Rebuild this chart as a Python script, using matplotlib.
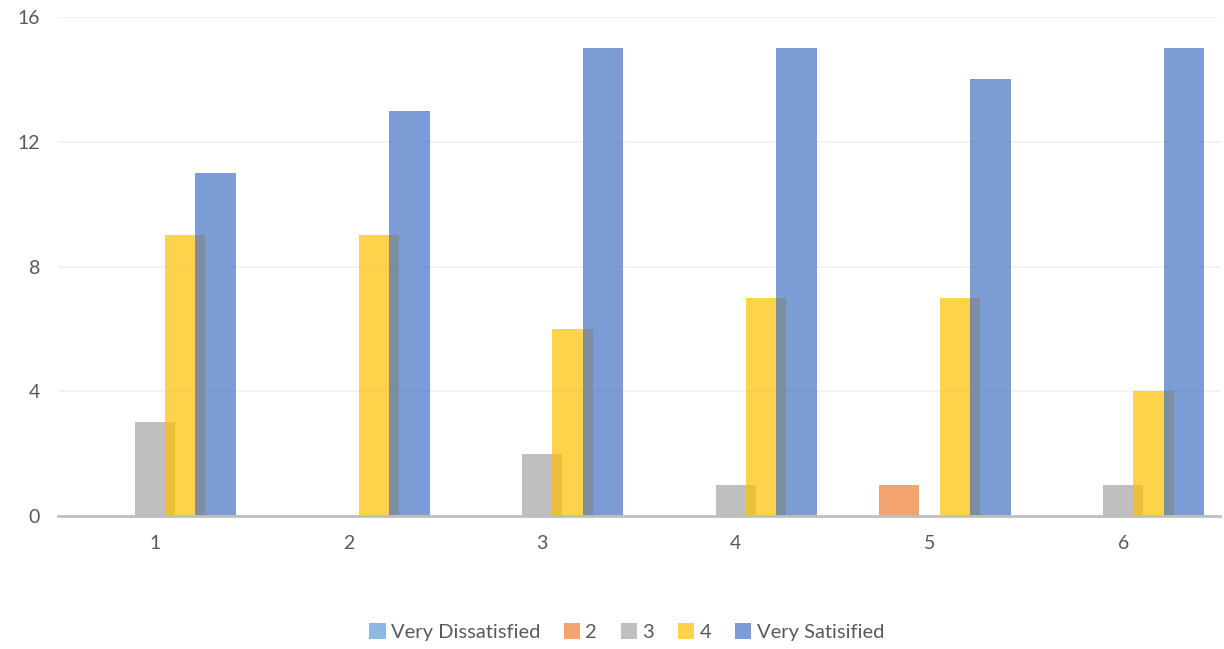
import numpy as np
import matplotlib.pyplot as plt

groups = ['1', '2', '3', '4', '5', '6']
series_names = ['Very Dissatisfied', '2', '3', '4', 'Very Satisified']
very_dissatisfied = [0, 0, 0, 0, 0, 0]
level_2 = [0, 0, 0, 0, 1, 0]
level_3 = [3, 0, 2, 1, 0, 1]
level_4 = [9, 9, 6, 7, 7, 4]
very_satisfied = [11, 13, 15, 15, 14, 15]

colors = ['#5b9bd5', '#ed7d31', '#a5a5a5', '#ffc000', '#4472c4']
all_series = [very_dissatisfied, level_2, level_3, level_4, very_satisfied]

plt.rcParams['font.family'] = ['Lato', 'DejaVu Sans']

fig = plt.figure(figsize=(12.24, 6.49), dpi=100)
ax = fig.add_axes([0.0474, 0.2049, 0.9493, 0.7689])

x = np.arange(1, len(groups) + 1)
width = 0.209
step = 0.157
for i, (vals, c, name) in enumerate(zip(all_series, colors, series_names)):
    ax.bar(x + (i - 2) * step, vals, width, color=c, alpha=0.7, label=name,
           zorder=3 + i, linewidth=0)

ax.set_xlim(0.5, 6.5)
ax.set_ylim(0, 16)
ax.set_yticks([0, 4, 8, 12, 16])
ax.set_xticks(x)
ax.set_xticklabels(groups)
ax.grid(axis='y', color='#efefef', linewidth=1.2, zorder=0)
for s in ['top', 'right', 'left']:
    ax.spines[s].set_visible(False)
ax.spines['bottom'].set_color('#bfbfbf')
ax.spines['bottom'].set_linewidth(2)
ax.spines['bottom'].set_zorder(10)
ax.tick_params(axis='both', length=0, labelsize=14, labelcolor='#595959')
ax.tick_params(axis='y', pad=13)
ax.tick_params(axis='x', pad=14)

handles, labels = ax.get_legend_handles_labels()
fig.legend(handles, labels, loc='center', bbox_to_anchor=(0.512, 0.026),
           ncol=5, frameon=False, fontsize=14.5, labelcolor='#595959',
           handlelength=0.8, handleheight=0.8, handletextpad=0.25,
           columnspacing=1.2)

fig.savefig('out.png', dpi=100)
